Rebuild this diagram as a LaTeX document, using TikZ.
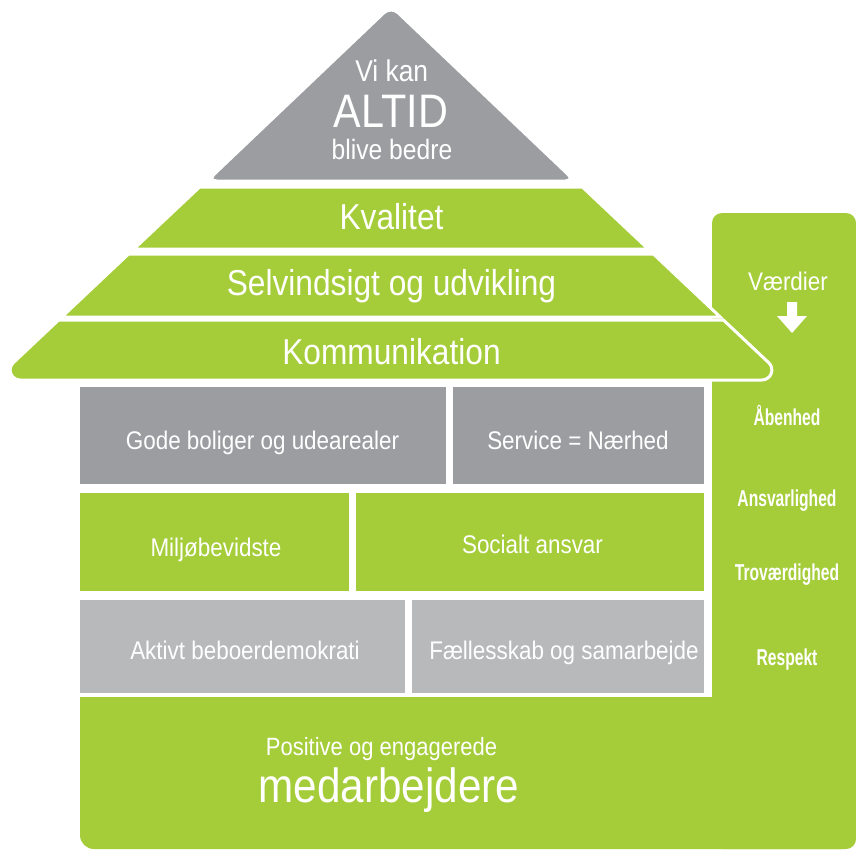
\documentclass[tikz,border=0pt]{standalone}
\usepackage{fontspec}
\setmainfont[FakeStretch=0.88]{Liberation Sans}
\newfontfamily\valfont[FakeStretch=0.68]{Liberation Sans}
\definecolor{husgroen}{RGB}{165,205,57}
\definecolor{moerkgraa}{RGB}{155,157,160}
\definecolor{lysgraa}{RGB}{184,185,187}
\tikzset{
  band/.style={fill=husgroen,draw=white,line width=3pt},
  txt/.style={text=white,anchor=base,font=\fontsize{#1}{#1}\selectfont},
  val/.style={text=white,anchor=base,font=\valfont\bfseries\fontsize{23}{25}\selectfont}
}
\begin{document}
\begin{tikzpicture}[x=1pt,y=-1pt]
\useasboundingbox(0,0)rectangle(856,849);
\fill[husgroen,rounded corners=10pt](712,213)rectangle(856,849);
\fill[husgroen,rounded corners=14pt](80,697)rectangle(856,849);
\fill[husgroen](80,697)rectangle(120,740);
\filldraw[band,fill=moerkgraa,rounded corners=10pt](207,181)--(391,6)--(575,181)--cycle;
\filldraw[band](199.6,187)--(582.4,187)--(648.2,249)--(133.8,249)--cycle;
\filldraw[band](128.5,254)--(653.5,254)--(720.2,317)--(61.8,317)--cycle;
\filldraw[band](58.6,320)--(723.4,320)--(768.7,362.7)..controls(775.3,368.9)and(770.9,380)..(761.8,380)
  --(20.2,380)..controls(11.1,380)and(6.7,368.9)..(13.3,362.7)--cycle;
\foreach \xa/\xb/\ya/\yb/\c in {80/446/387/484/moerkgraa,453/704/387/484/moerkgraa,
  80/349/493/591/husgroen,356/704/493/591/husgroen,80/405/600/693/lysgraa,412/704/600/693/lysgraa}
  \fill[\c](\xa,\ya)rectangle(\xb,\yb);
\fill[white](787,302)--(797,302)--(797,316)--(807,316)--(792,333)--(777,316)--(787,316)--cycle;
\node[txt=30](vikan)at(391.7,81.7){Vi kan};
\node[txt=47](altid)at(391,127.7){ALTID};
\node[txt=28](bedre)at(392,159.3){blive bedre};
\foreach \n/\y/\t in {kval/229/Kvalitet,selv/295/Selvindsigt og udvikling,komm/364/Kommunikation}
  \node[txt=36](\n)at(391.5,\y){\t};
\foreach \n/\x/\y/\t in {gode/262.5/449/Gode boliger og udearealer,serv/578/449/Service = Nærhed,
  milj/216/556/Miljøbevidste,soc/532.5/553.3/Socialt ansvar,
  akt/245/659.3/Aktivt beboerdemokrati,faell/564/659.3/Fællesskab og samarbejde}
  \node[txt=25.5](\n)at(\x,\y){\t};
\node[txt=25](pos)at(381.5,755.7){Positive og engagerede};
\node[txt=48](med)at(389,802.3){medarbejdere};
\node[txt=25.5](vaerd)at(788,290){Værdier};
\foreach \n/\y/\t in {aab/425/Åbenhed,ansv/506.7/Ansvarlighed,trov/580/Troværdighed,resp/665/Respekt}
  \node[val](\n)at(787,\y){\t};
\end{tikzpicture}
\end{document}
